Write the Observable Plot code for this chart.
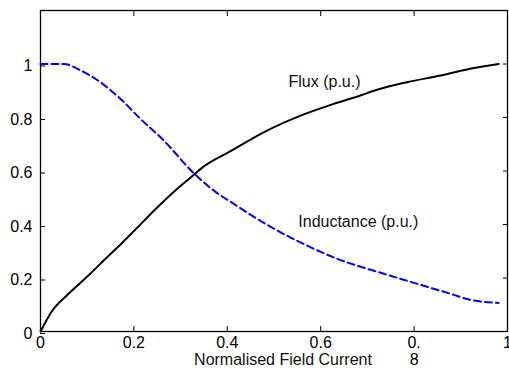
<!DOCTYPE html>
<html>
<head>
<meta charset="utf-8">
<script src="https://cdn.jsdelivr.net/npm/d3@7"></script>
<script src="https://cdn.jsdelivr.net/npm/@observablehq/plot@0.6"></script>
<style>
  html, body { margin: 0; padding: 0; background: #fff; }
  svg { display: block; }
</style>
</head>
<body>
<div id="chart"></div>
<script>
const fluxX = [0, 0.024, 0.06, 0.103, 0.138, 0.174, 0.21, 0.245, 0.281, 0.331, 0.343, 0.41, 0.485, 0.557, 0.628, 0.685, 0.714, 0.785, 0.857, 0.928, 0.981];
const fluxY = [0, 0.075, 0.141, 0.21, 0.27, 0.33, 0.393, 0.455, 0.515, 0.59, 0.608, 0.677, 0.751, 0.807, 0.851, 0.882, 0.90, 0.932, 0.957, 0.985, 1.0];

const indX = [0, 0.05, 0.086, 0.128, 0.171, 0.214, 0.264, 0.328, 0.371, 0.414, 0.464, 0.514, 0.571, 0.635, 0.735, 0.807, 0.878, 0.921, 0.981];
const indY = [1.0, 1.0, 0.976, 0.932, 0.87, 0.795, 0.714, 0.592, 0.527, 0.477, 0.421, 0.371, 0.321, 0.272, 0.216, 0.178, 0.141, 0.118, 0.107];

const xTicks = [0, 0.2, 0.4, 0.6, 0.8, 1];
const xTickLabels = ["0", "0.2", "0.4", "0.6", "0.\n8", "1"];
const yTicks = [0, 0.2, 0.4, 0.6, 0.8, 1];
const yTickLabels = ["0", "0.2", "0.4", "0.6", "0.8", "1"];

const labelNames = ["Flux (p.u.)", "Inductance (p.u.)"];
const labelX = [0.531, 0.552];
const labelY = [0.935, 0.41];

const xTitle = "Normalised Field Current";

const flux = fluxX.map((x, i) => ({x, y: fluxY[i]}));
const ind = indX.map((x, i) => ({x, y: indY[i]}));
const labels = labelNames.map((t, i) => ({t, x: labelX[i], y: labelY[i]}));

const font = "Liberation Sans, Arial, Helvetica, sans-serif";

const plot = Plot.plot({
  width: 509,
  height: 368,
  marginLeft: 40,
  marginRight: 2,
  marginTop: 10,
  marginBottom: 37,
  style: {fontFamily: font, fontSize: "16px", color: "black", background: "white"},
  x: {domain: [0, 1]},
  y: {domain: [0, 1.2]},
  marks: [
    Plot.axisX({anchor: "bottom", ticks: xTicks, tickSize: -5, tickPadding: 9, lineHeight: 1.08,
      tickFormat: (d) => xTickLabels[xTicks.indexOf(d)], label: null, fontSize: 16, stroke: "black"}),
    Plot.axisX({anchor: "top", ticks: xTicks, tickSize: -5, tickFormat: () => "", label: null, stroke: "black"}),
    Plot.axisY({anchor: "left", ticks: yTicks, tickSize: -5, tickPadding: 13, dy: 2,
      tickFormat: (d) => yTickLabels[yTicks.indexOf(d)], label: null, fontSize: 16, stroke: "black"}),
    Plot.axisY({anchor: "right", ticks: yTicks, tickSize: -5, tickFormat: () => "", label: null, stroke: "black"}),
    Plot.frame({stroke: "black", strokeWidth: 1.3}),
    Plot.line(flux, {x: "x", y: "y", stroke: "black", strokeWidth: 2, curve: "monotone-x"}),
    Plot.line(ind, {x: "x", y: "y", stroke: "#0000ff", strokeWidth: 2, strokeDasharray: "7,4", curve: "monotone-x"}),
    Plot.text(labels, {x: "x", y: "y", text: "t", textAnchor: "start", fontSize: 16, fill: "#111"}),
    Plot.text([xTitle], {frameAnchor: "bottom", dy: 33, dx: 9, lineAnchor: "bottom", fontSize: 16, fill: "#111"})
  ]
});

document.getElementById("chart").appendChild(plot);
</script>
</body>
</html>
